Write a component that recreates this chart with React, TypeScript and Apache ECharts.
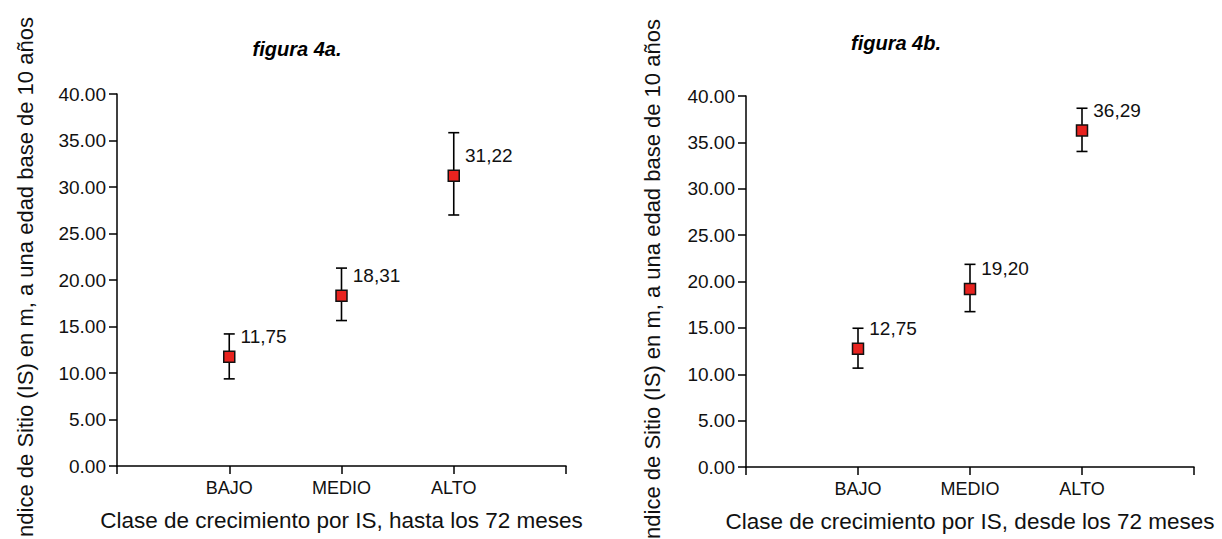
import React, { useEffect, useRef } from "react";
import * as echarts from "echarts";

const categories = ["BAJO", "MEDIO", "ALTO"];

// figura 4a: hasta los 72 meses
const meansA = [11.75, 18.31, 31.22];
const lowA = [9.37, 15.64, 26.99];
const highA = [14.2, 21.28, 35.84];

// figura 4b: desde los 72 meses
const meansB = [12.75, 19.2, 36.29];
const lowB = [10.66, 16.75, 34.02];
const highB = [14.96, 21.85, 38.68];

const titleA = "figura 4a.";
const titleB = "figura 4b.";
const xTitleA = "Clase de crecimiento por IS, hasta los 72 meses";
const xTitleB = "Clase de crecimiento por IS, desde los 72 meses";
const yTitleParts = ["Indice de Sitio (IS) en m, a una edad base de ", "10 años"];
const yTitle = yTitleParts.join("");

const FONT = "'Liberation Sans', Arial, sans-serif";
const TXT = "#111";
const Y_FONT = `22px ${FONT}`;

function measure(text: string, font: string): number {
  const c = document.createElement("canvas").getContext("2d");
  if (!c) return text.length * 11;
  c.font = font;
  return c.measureText(text).width;
}

function App() {
  const ref = useRef<HTMLDivElement>(null);
  useEffect(() => {
    if (!ref.current) return;
    const chart = echarts.init(ref.current, null, { renderer: "svg" });

    const xAxisBase = (gridIndex: number) => ({
      type: "value",
      gridIndex,
      min: 0,
      max: 4,
      interval: 1,
      axisLine: { show: true, lineStyle: { color: "#000", width: 1.5 } },
      axisTick: { show: true, length: 8, lineStyle: { color: "#000", width: 1.5 } },
      splitLine: { show: false },
      axisLabel: {
        margin: 13,
        fontFamily: FONT,
        fontSize: 18,
        color: TXT,
        showMinLabel: true,
        showMaxLabel: true,
        formatter: (v: number) => (v >= 1 && v <= 3 ? categories[v - 1] : ""),
      },
    });
    const yAxisBase = (gridIndex: number) => ({
      type: "value",
      gridIndex,
      min: 0,
      max: 40,
      interval: 5,
      axisLine: { show: true, lineStyle: { color: "#000", width: 1.5 } },
      axisTick: { show: true, length: 8, lineStyle: { color: "#000", width: 1.5 } },
      splitLine: { show: false },
      axisLabel: {
        margin: 11,
        fontFamily: FONT,
        fontSize: 19,
        color: TXT,
        formatter: (v: number) => v.toFixed(2),
      },
    });

    const errSeries = (idx: number, lows: number[], highs: number[]) => ({
      type: "custom",
      xAxisIndex: idx,
      yAxisIndex: idx,
      z: 1,
      data: lows.map((l, i) => [i + 1, l, highs[i]]),
      renderItem: (params: any, api: any) => {
        const x = api.value(0);
        const lo = api.coord([x, api.value(1)]);
        const hi = api.coord([x, api.value(2)]);
        const hw = 5.5;
        const style = { stroke: "#000", lineWidth: 1.6 };
        return {
          type: "group",
          children: [
            { type: "line", shape: { x1: lo[0], y1: lo[1], x2: hi[0], y2: hi[1] }, style },
            { type: "line", shape: { x1: hi[0] - hw, y1: hi[1], x2: hi[0] + hw, y2: hi[1] }, style },
            { type: "line", shape: { x1: lo[0] - hw, y1: lo[1], x2: lo[0] + hw, y2: lo[1] }, style },
          ],
        };
      },
    });

    const pointSeries = (idx: number, means: number[]) => ({
      type: "scatter",
      xAxisIndex: idx,
      yAxisIndex: idx,
      z: 3,
      symbol: "rect",
      symbolSize: 11,
      itemStyle: { color: "#e8231f", borderColor: "#111", borderWidth: 1.5, opacity: 1 },
      label: {
        show: true,
        position: "right",
        distance: 5,
        offset: [0, -20],
        fontFamily: FONT,
        fontSize: 19,
        color: TXT,
        formatter: (p: any) => p.value[1].toFixed(2).replace(".", ","),
      },
      data: means.map((m, i) => [i + 1, m]),
    });

    const rotText = (text: string, x: number, yBottom: number) => ({
      type: "text",
      x,
      y: yBottom,
      rotation: Math.PI / 2,
      style: { text, font: Y_FONT, fill: TXT, align: "left", verticalAlign: "middle" },
    });

    const firstLen = measure(yTitleParts[0], Y_FONT);

    chart.setOption({
      animation: false,
      backgroundColor: "#fff",
      grid: [
        { left: 117, top: 94, width: 449, height: 372, outerBoundsMode: "none", containLabel: false },
        { left: 746, top: 96, width: 448, height: 371, outerBoundsMode: "none", containLabel: false },
      ],
      xAxis: [xAxisBase(0), xAxisBase(1)],
      yAxis: [yAxisBase(0), yAxisBase(1)],
      series: [
        errSeries(0, lowA, highA),
        pointSeries(0, meansA),
        errSeries(1, lowB, highB),
        pointSeries(1, meansB),
      ],
      graphic: [
        {
          type: "text", x: 297, y: 49,
          style: { text: titleA, font: `italic bold 20px ${FONT}`, fill: "#000", align: "center", verticalAlign: "middle" },
        },
        {
          type: "text", x: 896, y: 43,
          style: { text: titleB, font: `italic bold 20px ${FONT}`, fill: "#000", align: "center", verticalAlign: "middle" },
        },
        {
          type: "text", x: 341.5, y: 520,
          style: { text: xTitleA, font: `22.5px ${FONT}`, fill: TXT, align: "center", verticalAlign: "middle" },
        },
        {
          type: "text", x: 970, y: 521.5,
          style: { text: xTitleB, font: `22.5px ${FONT}`, fill: TXT, align: "center", verticalAlign: "middle" },
        },
        rotText(yTitleParts[0], 25, 543),
        rotText(yTitleParts[1], 25, 543 - firstLen),
        rotText(yTitle, 652, 545),
      ],
    });
    return () => chart.dispose();
  }, []);

  return (
    <div
      ref={ref}
      style={{ position: "fixed", left: 0, top: 0, width: 1222, height: 539, background: "#fff" }}
    />
  );
}

export default App;
